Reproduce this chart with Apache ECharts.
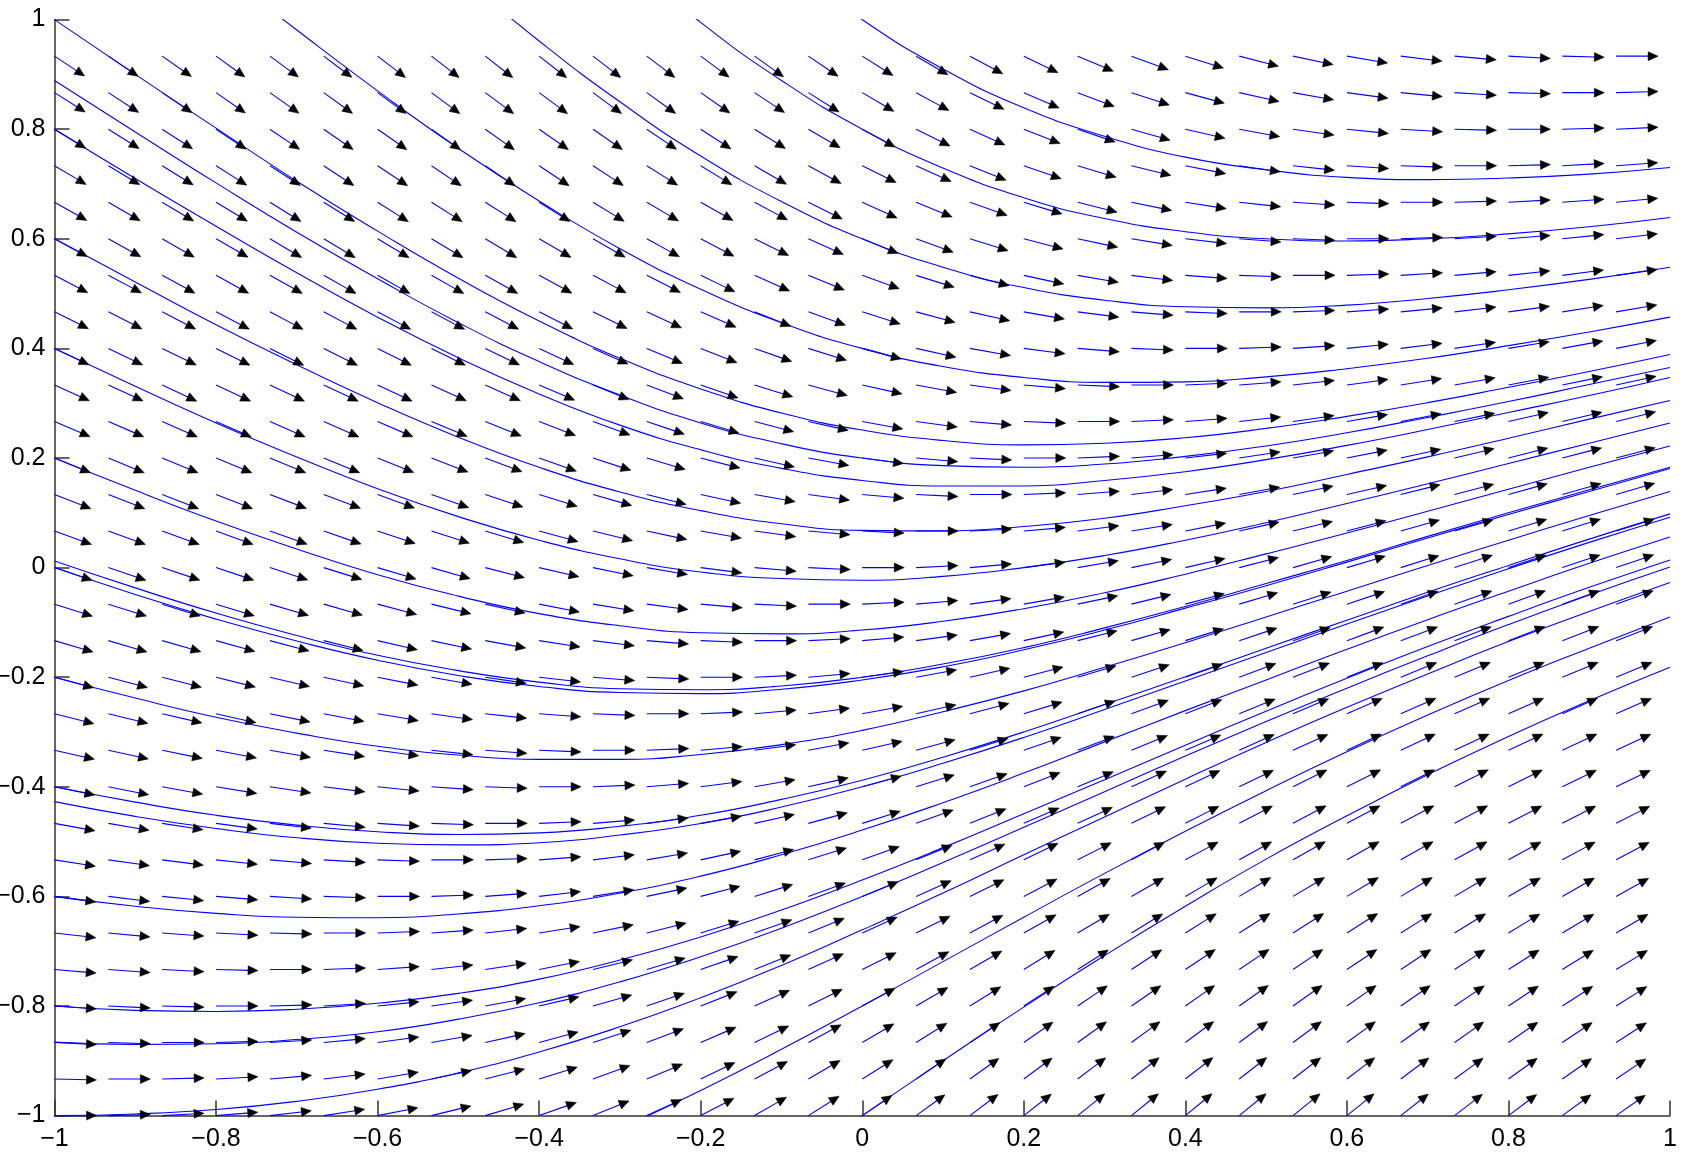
<!DOCTYPE html>
<html>
<head>
<meta charset="utf-8">
<script src="https://cdn.jsdelivr.net/npm/echarts@6/dist/echarts.min.js"></script>
<style>
html,body{margin:0;padding:0;background:#fff;}
#chart{width:1708px;height:1162px;}
</style>
</head>
<body>
<div id="chart"></div>
<script>
// Tick labels
const xTicks = [-1, -0.8, -0.6, -0.4, -0.2, 0, 0.2, 0.4, 0.6, 0.8, 1];
const yTicks = [-1, -0.8, -0.6, -0.4, -0.2, 0, 0.2, 0.4, 0.6, 0.8, 1];

// Direction-field grid (arrow tail positions)
const gridX = [-1, -0.9333, -0.8667, -0.8, -0.7333, -0.6667, -0.6, -0.5333, -0.4667, -0.4, -0.3333, -0.2667, -0.2, -0.1333, -0.0667, 0, 0.0667, 0.1333, 0.2, 0.2667, 0.3333, 0.4, 0.4667, 0.5333, 0.6, 0.6667, 0.7333, 0.8, 0.8667, 0.9333];
const gridY = [-1, -0.9333, -0.8667, -0.8, -0.7333, -0.6667, -0.6, -0.5333, -0.4667, -0.4, -0.3333, -0.2667, -0.2, -0.1333, -0.0667, 0, 0.0667, 0.1333, 0.2, 0.2667, 0.3333, 0.4, 0.4667, 0.5333, 0.6, 0.6667, 0.7333, 0.8, 0.8667, 0.9333];

// Arrow slopes dy/dx, one column per gridX value, listed bottom (gridY[0]) to top
const slopes = [
[0,-.03,-.07,-.10,-.13,-.17,-.20,-.23,-.27,-.30,-.33,-.37,-.40,-.43,-.47,-.50,-.53,-.57,-.60,-.63,-.67,-.70,-.73,-.77,-.80,-.83,-.87,-.90,-.93,-.97],
[.04,0,-.04,-.07,-.11,-.14,-.18,-.21,-.25,-.29,-.32,-.36,-.39,-.43,-.46,-.50,-.53,-.57,-.61,-.64,-.68,-.71,-.75,-.78,-.82,-.86,-.89,-.93,-.96,-1.00],
[.08,.04,0,-.04,-.08,-.11,-.15,-.19,-.23,-.27,-.30,-.34,-.38,-.42,-.46,-.49,-.53,-.57,-.61,-.65,-.69,-.72,-.76,-.80,-.84,-.88,-.91,-.95,-.99,-1.03],
[.12,.08,.04,0,-.04,-.08,-.12,-.16,-.20,-.24,-.28,-.33,-.37,-.41,-.45,-.49,-.53,-.57,-.61,-.65,-.69,-.73,-.77,-.81,-.85,-.89,-.93,-.98,-1.02,-1.06],
[.17,.13,.09,.04,0,-.04,-.09,-.13,-.17,-.22,-.26,-.30,-.35,-.39,-.43,-.48,-.52,-.56,-.61,-.65,-.69,-.74,-.78,-.82,-.87,-.91,-.95,-1.00,-1.04,-1.08],
[.23,.18,.14,.09,.05,0,-.05,-.09,-.14,-.18,-.23,-.28,-.32,-.37,-.42,-.46,-.51,-.55,-.60,-.65,-.69,-.74,-.78,-.83,-.88,-.92,-.97,-1.02,-1.06,-1.11],
[.29,.25,.20,.15,.10,.05,0,-.05,-.10,-.15,-.20,-.25,-.29,-.34,-.39,-.44,-.49,-.54,-.59,-.64,-.69,-.74,-.78,-.83,-.88,-.93,-.98,-1.03,-1.08,-1.13],
[.36,.31,.26,.21,.16,.10,.05,0,-.05,-.10,-.16,-.21,-.26,-.31,-.36,-.42,-.47,-.52,-.57,-.62,-.67,-.73,-.78,-.83,-.88,-.93,-.99,-1.04,-1.09,-1.14],
[.44,.38,.33,.27,.22,.16,.11,.05,0,-.05,-.11,-.16,-.22,-.27,-.33,-.38,-.44,-.49,-.55,-.60,-.66,-.71,-.77,-.82,-.88,-.93,-.99,-1.04,-1.09,-1.15],
[.52,.46,.40,.34,.29,.23,.17,.11,.06,0,-.06,-.11,-.17,-.23,-.29,-.34,-.40,-.46,-.52,-.57,-.63,-.69,-.75,-.80,-.86,-.92,-.98,-1.03,-1.09,-1.15],
[.60,.54,.48,.42,.36,.30,.24,.18,.12,.06,0,-.06,-.12,-.18,-.24,-.30,-.36,-.42,-.48,-.54,-.60,-.66,-.72,-.78,-.84,-.90,-.96,-1.02,-1.08,-1.14],
[.68,.62,.56,.50,.44,.37,.31,.25,.19,.12,.06,0,-.06,-.12,-.19,-.25,-.31,-.37,-.44,-.50,-.56,-.62,-.68,-.75,-.81,-.87,-.93,-1.00,-1.06,-1.12],
[.77,.71,.64,.58,.51,.45,.38,.32,.26,.19,.13,.06,0,-.06,-.13,-.19,-.26,-.32,-.38,-.45,-.51,-.58,-.64,-.71,-.77,-.83,-.90,-.96,-1.03,-1.09],
[.85,.79,.72,.66,.59,.52,.46,.39,.33,.26,.20,.13,.07,0,-.07,-.13,-.20,-.26,-.33,-.39,-.46,-.52,-.59,-.66,-.72,-.79,-.85,-.92,-.98,-1.05],
[.93,.86,.80,.73,.66,.60,.53,.46,.40,.33,.27,.20,.13,.07,0,-.07,-.13,-.20,-.27,-.33,-.40,-.46,-.53,-.60,-.66,-.73,-.80,-.86,-.93,-1.00],
[1.00,.93,.87,.80,.73,.67,.60,.53,.47,.40,.33,.27,.20,.13,.07,0,-.07,-.13,-.20,-.27,-.33,-.40,-.47,-.53,-.60,-.67,-.73,-.80,-.87,-.93],
[1.06,1.00,.93,.86,.80,.73,.66,.60,.53,.46,.40,.33,.27,.20,.13,.07,0,-.07,-.13,-.20,-.27,-.33,-.40,-.46,-.53,-.60,-.66,-.73,-.80,-.86],
[1.11,1.05,.98,.92,.85,.79,.72,.66,.59,.52,.46,.39,.33,.26,.20,.13,.07,0,-.07,-.13,-.20,-.26,-.33,-.39,-.46,-.52,-.59,-.66,-.72,-.79],
[1.15,1.09,1.03,.96,.90,.83,.77,.71,.64,.58,.51,.45,.38,.32,.26,.19,.13,.06,0,-.06,-.13,-.19,-.26,-.32,-.38,-.45,-.51,-.58,-.64,-.71],
[1.18,1.12,1.06,1.00,.93,.87,.81,.75,.68,.62,.56,.50,.44,.37,.31,.25,.19,.12,.06,0,-.06,-.12,-.19,-.25,-.31,-.37,-.44,-.50,-.56,-.62],
[1.20,1.14,1.08,1.02,.96,.90,.84,.78,.72,.66,.60,.54,.48,.42,.36,.30,.24,.18,.12,.06,0,-.06,-.12,-.18,-.24,-.30,-.36,-.42,-.48,-.54],
[1.21,1.15,1.09,1.03,.98,.92,.86,.80,.75,.69,.63,.57,.52,.46,.40,.34,.29,.23,.17,.11,.06,0,-.06,-.11,-.17,-.23,-.29,-.34,-.40,-.46],
[1.20,1.15,1.09,1.04,.99,.93,.88,.82,.77,.71,.66,.60,.55,.49,.44,.38,.33,.27,.22,.16,.11,.05,0,-.05,-.11,-.16,-.22,-.27,-.33,-.38],
[1.19,1.14,1.09,1.04,.99,.93,.88,.83,.78,.73,.67,.62,.57,.52,.47,.42,.36,.31,.26,.21,.16,.10,.05,0,-.05,-.10,-.16,-.21,-.26,-.31],
[1.18,1.13,1.08,1.03,.98,.93,.88,.83,.78,.74,.69,.64,.59,.54,.49,.44,.39,.34,.29,.25,.20,.15,.10,.05,0,-.05,-.10,-.15,-.20,-.25],
[1.15,1.11,1.06,1.02,.97,.92,.88,.83,.78,.74,.69,.65,.60,.55,.51,.46,.42,.37,.32,.28,.23,.18,.14,.09,.05,0,-.05,-.09,-.14,-.18],
[1.13,1.08,1.04,1.00,.95,.91,.87,.82,.78,.74,.69,.65,.61,.56,.52,.48,.43,.39,.35,.30,.26,.22,.17,.13,.09,.04,0,-.04,-.09,-.13],
[1.10,1.06,1.02,.98,.93,.89,.85,.81,.77,.73,.69,.65,.61,.57,.53,.49,.45,.41,.37,.33,.28,.24,.20,.16,.12,.08,.04,0,-.04,-.08],
[1.07,1.03,.99,.95,.91,.88,.84,.80,.76,.72,.69,.65,.61,.57,.53,.49,.46,.42,.38,.34,.30,.27,.23,.19,.15,.11,.08,.04,0,-.04],
[1.03,1.00,.96,.93,.89,.86,.82,.78,.75,.71,.68,.64,.61,.57,.53,.50,.46,.43,.39,.36,.32,.29,.25,.21,.18,.14,.11,.07,.04,0]
];

// Solution curves: y sampled at curveX (null = outside the plotted window)
const curveX = [-1, -0.9, -0.8, -0.7, -0.6, -0.5, -0.4, -0.3, -0.2, -0.1, 0, 0.1, 0.2, 0.3, 0.4, 0.5, 0.6, 0.7, 0.8, 0.9, 1];
// curves starting on the left edge
const left_p10 = [1.000, 0.900, 0.802, 0.705, 0.614, 0.528, 0.450, 0.382, 0.326, 0.282, 0.251, 0.232, 0.224, 0.227, 0.237, 0.254, 0.276, 0.301, 0.329, 0.358, 0.389];
const left_p08 = [0.800, 0.710, 0.623, 0.538, 0.457, 0.383, 0.317, 0.260, 0.215, 0.181, 0.159, 0.149, 0.149, 0.159, 0.175, 0.197, 0.223, 0.252, 0.283, 0.314, 0.347];
const left_p06 = [0.600, 0.521, 0.443, 0.370, 0.301, 0.238, 0.183, 0.138, 0.104, 0.080, 0.068, 0.067, 0.075, 0.090, 0.113, 0.139, 0.170, 0.202, 0.236, 0.271, 0.305];
const left_p04 = [0.400, 0.331, 0.264, 0.202, 0.144, 0.093, 0.050, 0.016, -0.008, -0.020, -0.023, -0.016, 0.000, 0.022, 0.050, 0.082, 0.117, 0.153, 0.190, 0.227, 0.264];
const left_p02 = [0.200, 0.141, 0.085, 0.034, -0.013, -0.052, -0.084, -0.106, -0.119, -0.121, -0.114, -0.098, -0.075, -0.046, -0.012, 0.025, 0.063, 0.103, 0.143, 0.183, 0.222];
const left_00 = [0.000, -0.049, -0.094, -0.134, -0.169, -0.197, -0.217, -0.228, -0.230, -0.222, -0.205, -0.181, -0.150, -0.114, -0.074, -0.033, 0.010, 0.054, 0.097, 0.139, 0.181];
const left_m02 = [-0.200, -0.238, -0.273, -0.302, -0.326, -0.342, -0.350, -0.350, -0.341, -0.323, -0.297, -0.263, -0.225, -0.182, -0.137, -0.090, -0.043, 0.004, 0.050, 0.095, 0.139];
const left_m04 = [-0.400, -0.428, -0.452, -0.470, -0.482, -0.487, -0.484, -0.472, -0.452, -0.423, -0.388, -0.346, -0.300, -0.250, -0.199, -0.147, -0.096, -0.045, 0.004, 0.052, 0.098];
const left_m06 = [-0.600, -0.618, -0.631, -0.638, -0.639, -0.632, -0.617, -0.594, -0.563, -0.524, -0.479, -0.429, -0.375, -0.318, -0.261, -0.205, -0.149, -0.095, -0.043, 0.008, 0.056];
const left_m08 = [-0.800, -0.808, -0.810, -0.806, -0.795, -0.777, -0.751, -0.716, -0.674, -0.625, -0.570, -0.511, -0.449, -0.387, -0.324, -0.262, -0.202, -0.144, -0.089, -0.036, 0.014];
const left_m10 = [-1.000, -0.997, -0.989, -0.974, -0.952, -0.922, -0.884, -0.838, -0.785, -0.726, -0.661, -0.594, -0.524, -0.455, -0.386, -0.319, -0.255, -0.194, -0.135, -0.080, -0.027];
// curves through the x = 0 line
const mid_p10 = [null, null, null, null, null, null, null, null, null, 1.110, 1.000, 0.910, 0.839, 0.787, 0.749, 0.726, 0.712, 0.708, 0.711, 0.718, 0.730];
const mid_p08 = [null, null, null, null, null, null, null, 1.118, 0.995, 0.889, 0.800, 0.729, 0.675, 0.637, 0.613, 0.600, 0.596, 0.600, 0.609, 0.622, 0.639];
const mid_p06 = [null, null, null, null, null, 1.083, 0.961, 0.850, 0.751, 0.668, 0.600, 0.548, 0.511, 0.488, 0.476, 0.474, 0.479, 0.491, 0.507, 0.526, 0.548];
const mid_p04 = [null, null, 1.095, 0.981, 0.870, 0.765, 0.669, 0.582, 0.508, 0.447, 0.400, 0.367, 0.347, 0.338, 0.339, 0.348, 0.363, 0.382, 0.405, 0.430, 0.457];
const mid_p02 = [0.889, 0.795, 0.702, 0.612, 0.527, 0.447, 0.376, 0.315, 0.264, 0.226, 0.200, 0.186, 0.183, 0.189, 0.203, 0.222, 0.246, 0.274, 0.303, 0.334, 0.365];
const mid_m02 = [0.012, -0.037, -0.083, -0.124, -0.160, -0.188, -0.209, -0.221, -0.223, -0.216, -0.200, -0.176, -0.146, -0.110, -0.071, -0.029, 0.013, 0.057, 0.100, 0.142, 0.183];
const mid_m04 = [-0.427, -0.454, -0.476, -0.493, -0.503, -0.506, -0.502, -0.488, -0.467, -0.437, -0.400, -0.357, -0.310, -0.259, -0.207, -0.155, -0.103, -0.052, -0.002, 0.046, 0.092];
const mid_m06 = [-0.866, -0.870, -0.869, -0.861, -0.847, -0.824, -0.794, -0.756, -0.710, -0.658, -0.600, -0.538, -0.474, -0.409, -0.344, -0.281, -0.220, -0.161, -0.104, -0.050, 0.001];
const mid_m08 = [null, null, null, null, null, null, null, -1.024, -0.954, -0.879, -0.800, -0.719, -0.638, -0.558, -0.481, -0.407, -0.336, -0.269, -0.206, -0.147, -0.090];
const mid_m10 = [null, null, null, null, null, null, null, null, null, -1.100, -1.000, -0.900, -0.802, -0.708, -0.618, -0.532, -0.453, -0.378, -0.308, -0.243, -0.182];

const curves = [left_p10, left_p08, left_p06, left_p04, left_p02, left_00, left_m02, left_m04, left_m06, left_m08, left_m10,
                mid_p10, mid_p08, mid_p06, mid_p04, mid_p02, mid_m02, mid_m04, mid_m06, mid_m08, mid_m10];

const ARROW_LEN = 0.052; // data units
const BLUE = '#0000ff';

const fieldData = [];
gridX.forEach((x, i) => {
  gridY.forEach((y, j) => {
    fieldData.push([x, y, slopes[i][j]]);
  });
});

function fmt(v) {
  const s = String(Math.round(v * 10) / 10);
  return s.replace('-', '\u2212');
}

const axisCommon = {
  type: 'value', min: -1, max: 1, interval: 0.2,
  axisLine: { show: true, onZero: false, lineStyle: { color: '#333', width: 1.5 } },
  axisTick: { show: true, inside: true, length: 15, lineStyle: { color: '#333', width: 1.5 } },
  splitLine: { show: false },
};

const series = curves.map((ys) => ({
  type: 'line',
  data: curveX.map((x, k) => [x, ys[k]]).filter(p => p[1] !== null),
  showSymbol: false,
  smooth: true,
  lineStyle: { color: BLUE, width: 1.1 },
  clip: true,
  z: 2,
  silent: true
}));

series.push({
  type: 'custom',
  data: fieldData,
  encode: { x: 0, y: 1 },
  z: 3,
  silent: true,
  renderItem: function (params, api) {
    const x = api.value(0), y = api.value(1), s = api.value(2);
    const n = Math.sqrt(1 + s * s);
    const p0 = api.coord([x, y]);
    const p1 = api.coord([x + ARROW_LEN / n, y + ARROW_LEN * s / n]);
    const ang = Math.atan2(p1[1] - p0[1], p1[0] - p0[0]);
    const c = Math.cos(ang), sn = Math.sin(ang);
    const hl = 10, hw = 4.5;
    const bx = p1[0] - hl * c, by = p1[1] - hl * sn;
    return {
      type: 'group',
      children: [
        { type: 'line', shape: { x1: p0[0], y1: p0[1], x2: bx + 2 * c, y2: by + 2 * sn },
          style: { stroke: BLUE, lineWidth: 1.1 } },
        { type: 'polygon', shape: { points: [[p1[0], p1[1]], [bx - hw * sn, by + hw * c], [bx + hw * sn, by - hw * c]] },
          style: { fill: '#000', stroke: '#000', lineWidth: 0.5 } }
      ]
    };
  }
});

const chart = echarts.init(document.getElementById('chart'), null, { renderer: 'canvas' });
chart.setOption({
  animation: false,
  backgroundColor: '#fff',
  textStyle: { fontFamily: "'Liberation Sans', Arial, sans-serif" },
  grid: { left: 54.5, right: 38, top: 19.6, bottom: 46.4, containLabel: false, outerBoundsMode: 'none' },
  xAxis: Object.assign({}, axisCommon, {
    axisLabel: { show: true, margin: 11, fontSize: 25, color: '#000',
      fontFamily: "'Liberation Sans', Arial, sans-serif",
      customValues: xTicks, formatter: fmt }
  }),
  yAxis: Object.assign({}, axisCommon, {
    axisLabel: { show: true, margin: 9, fontSize: 25, color: '#000',
      fontFamily: "'Liberation Sans', Arial, sans-serif",
      customValues: yTicks, formatter: fmt }
  }),
  series: series
});
</script>
</body>
</html>
